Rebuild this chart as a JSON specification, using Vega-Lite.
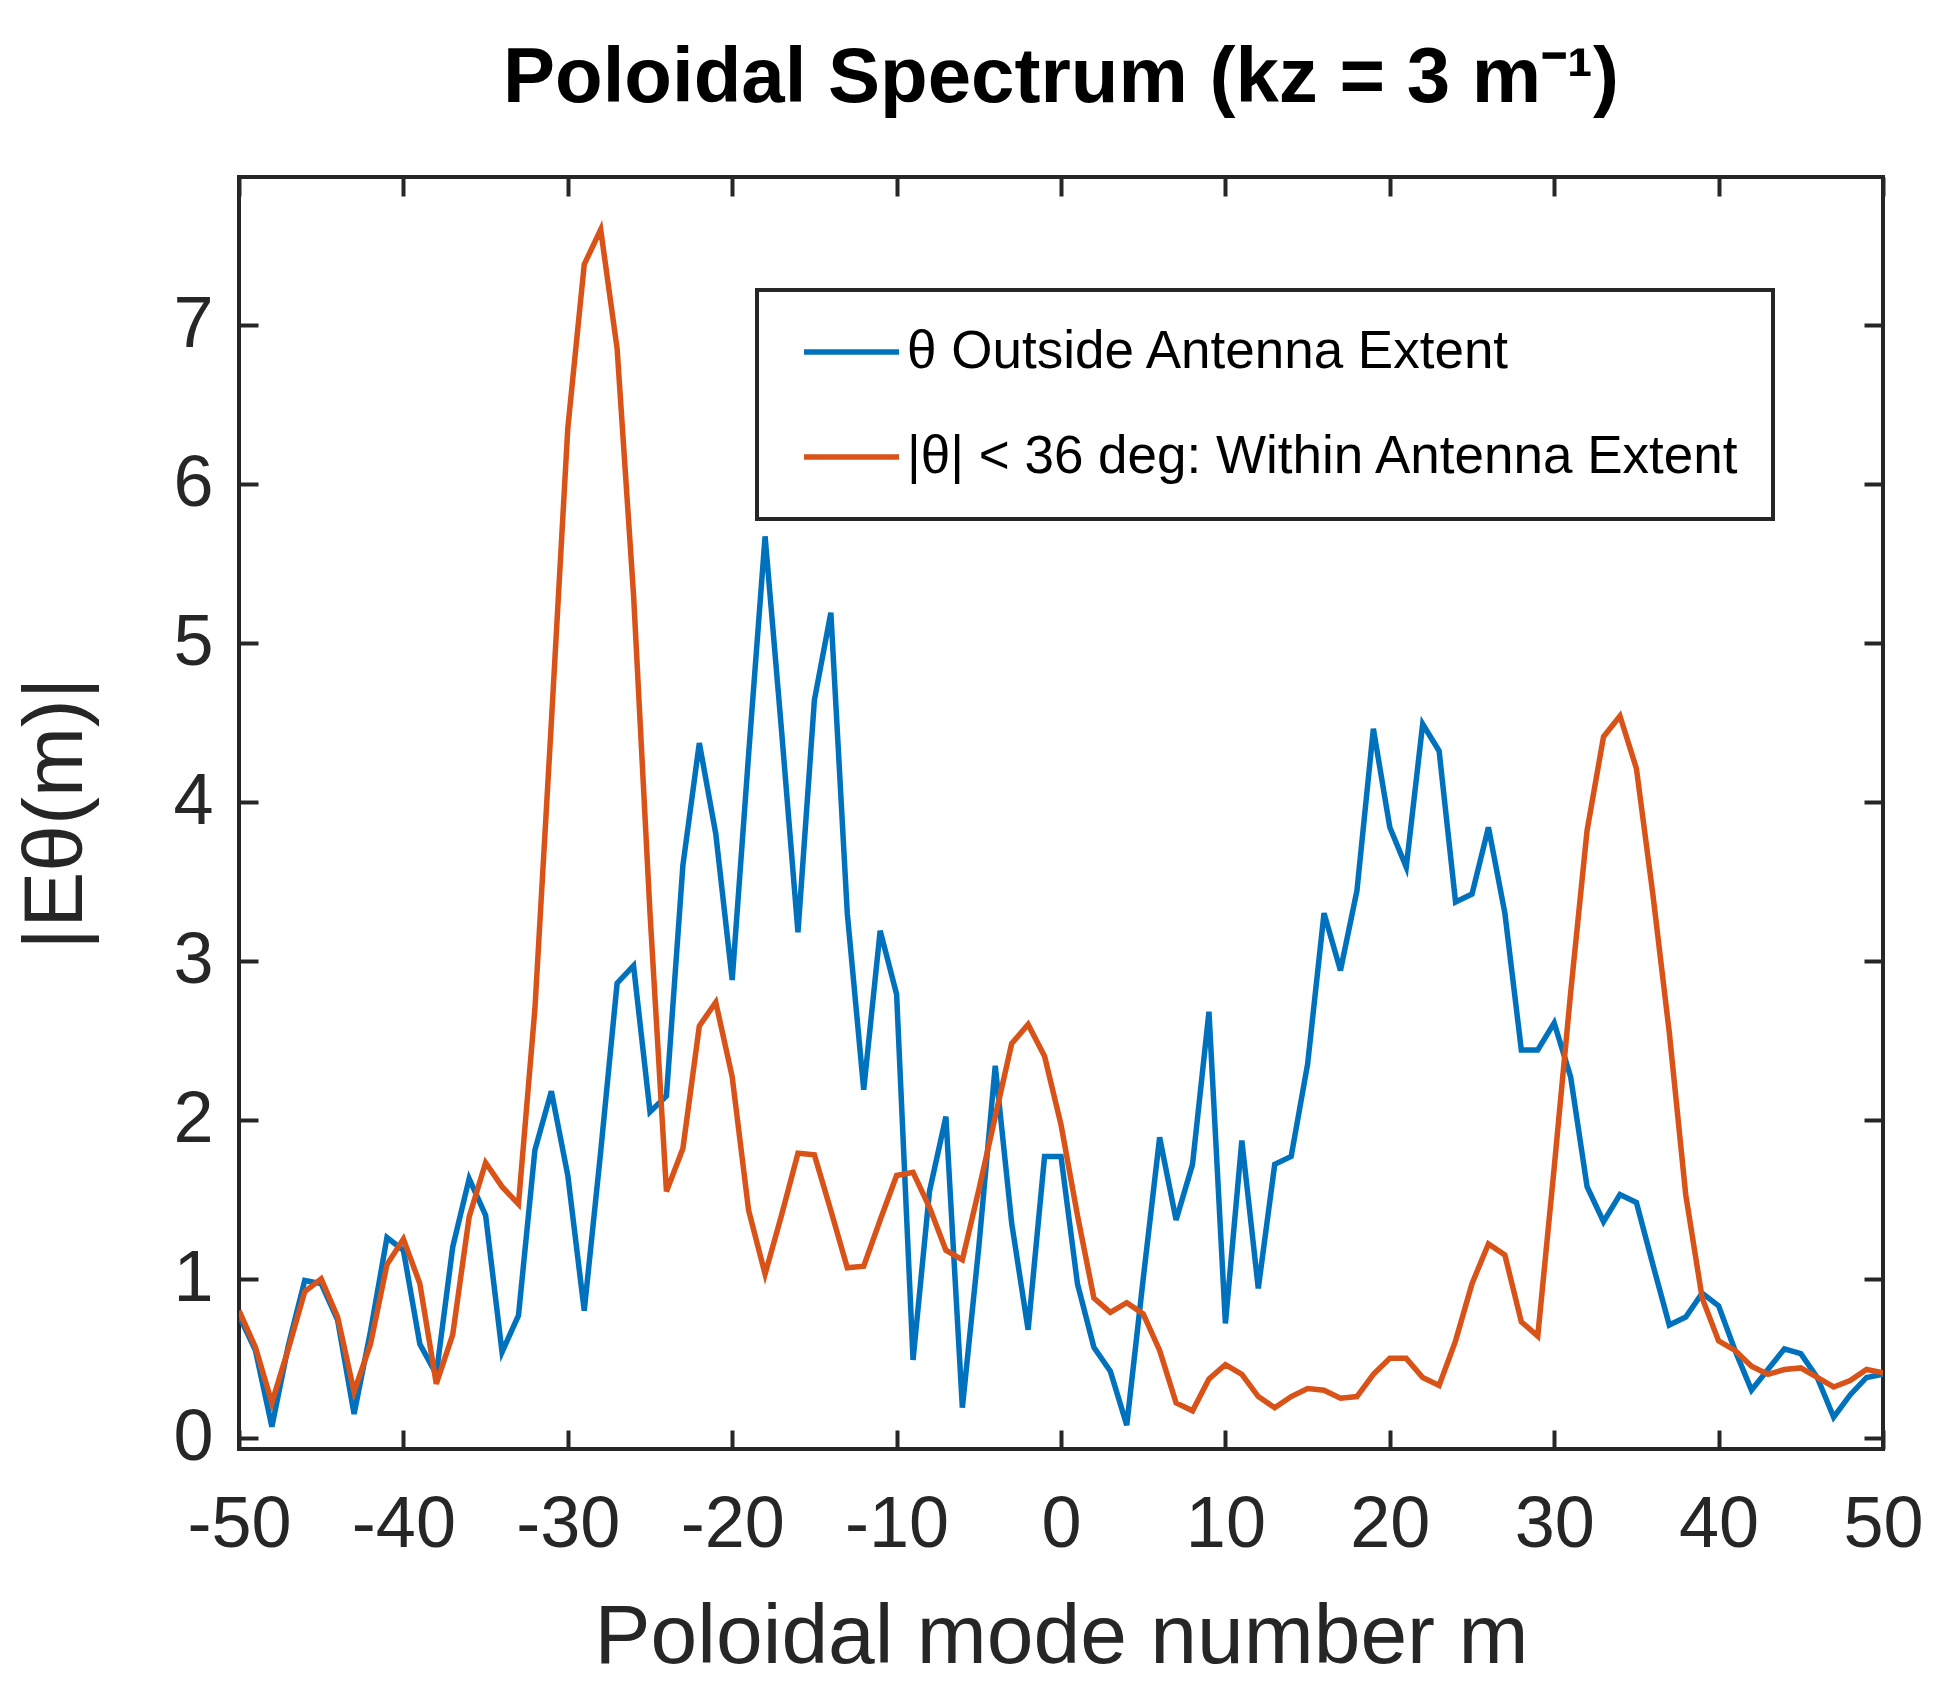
{
  "$schema": "https://vega.github.io/schema/vega-lite/v6.json",
  "autosize": "none",
  "width": 1644,
  "height": 1272,
  "padding": {"left": 239, "top": 177, "right": 55, "bottom": 232},
  "background": "white",
  "title": {
    "text": "Poloidal Spectrum (kz = 3 m⁻¹)",
    "font": "Liberation Sans",
    "fontSize": 78,
    "fontWeight": "bold",
    "color": "black",
    "anchor": "middle",
    "baseline": "alphabetic",
    "offset": -5
  },
  "config": {
    "view": {"stroke": "#262626", "strokeWidth": 4},
    "axis": {
      "labelFont": "Liberation Sans",
      "labelFontSize": 72,
      "labelColor": "#262626",
      "titleFont": "Liberation Sans",
      "titleFontSize": 84,
      "titleFontWeight": "normal",
      "titleColor": "#262626",
      "tickColor": "#262626",
      "tickWidth": 4,
      "tickSize": -19,
      "domain": false,
      "grid": false
    },
    "legend": {
      "labelFont": "Liberation Sans",
      "labelFontSize": 53,
      "labelColor": "black",
      "labelLimit": 2000
    }
  },
  "data": {
    "values": [
      {"m": -50, "outside": 0.77, "within": 0.80},
      {"m": -49, "outside": 0.55, "within": 0.57},
      {"m": -48, "outside": 0.07, "within": 0.22},
      {"m": -47, "outside": 0.58, "within": 0.56},
      {"m": -46, "outside": 0.99, "within": 0.92},
      {"m": -45, "outside": 0.97, "within": 1.00},
      {"m": -44, "outside": 0.74, "within": 0.76},
      {"m": -43, "outside": 0.15, "within": 0.29},
      {"m": -42, "outside": 0.67, "within": 0.59},
      {"m": -41, "outside": 1.26, "within": 1.09},
      {"m": -40, "outside": 1.18, "within": 1.25},
      {"m": -39, "outside": 0.59, "within": 0.97},
      {"m": -38, "outside": 0.40, "within": 0.34},
      {"m": -37, "outside": 1.20, "within": 0.65},
      {"m": -36, "outside": 1.63, "within": 1.39},
      {"m": -35, "outside": 1.40, "within": 1.73},
      {"m": -34, "outside": 0.54, "within": 1.58},
      {"m": -33, "outside": 0.77, "within": 1.47},
      {"m": -32, "outside": 1.81, "within": 2.70},
      {"m": -31, "outside": 2.18, "within": 4.50},
      {"m": -30, "outside": 1.65, "within": 6.35},
      {"m": -29, "outside": 0.80, "within": 7.38},
      {"m": -28, "outside": 1.80, "within": 7.60},
      {"m": -27, "outside": 2.86, "within": 6.85},
      {"m": -26, "outside": 2.97, "within": 5.30},
      {"m": -25, "outside": 2.05, "within": 3.30},
      {"m": -24, "outside": 2.15, "within": 1.55},
      {"m": -23, "outside": 3.60, "within": 1.82},
      {"m": -22, "outside": 4.37, "within": 2.59},
      {"m": -21, "outside": 3.80, "within": 2.74},
      {"m": -20, "outside": 2.88, "within": 2.27},
      {"m": -19, "outside": 4.30, "within": 1.43},
      {"m": -18, "outside": 5.67, "within": 1.03},
      {"m": -17, "outside": 4.45, "within": 1.40},
      {"m": -16, "outside": 3.18, "within": 1.79},
      {"m": -15, "outside": 4.64, "within": 1.78},
      {"m": -14, "outside": 5.19, "within": 1.43},
      {"m": -13, "outside": 3.30, "within": 1.07},
      {"m": -12, "outside": 2.19, "within": 1.08},
      {"m": -11, "outside": 3.19, "within": 1.37},
      {"m": -10, "outside": 2.79, "within": 1.65},
      {"m": -9, "outside": 0.49, "within": 1.67},
      {"m": -8, "outside": 1.55, "within": 1.45},
      {"m": -7, "outside": 2.02, "within": 1.18},
      {"m": -6, "outside": 0.19, "within": 1.12},
      {"m": -5, "outside": 1.20, "within": 1.56},
      {"m": -4, "outside": 2.34, "within": 2.02},
      {"m": -3, "outside": 1.35, "within": 2.48},
      {"m": -2, "outside": 0.68, "within": 2.60},
      {"m": -1, "outside": 1.77, "within": 2.40},
      {"m": 0, "outside": 1.77, "within": 1.97},
      {"m": 1, "outside": 0.97, "within": 1.40},
      {"m": 2, "outside": 0.57, "within": 0.88},
      {"m": 3, "outside": 0.42, "within": 0.79},
      {"m": 4, "outside": 0.08, "within": 0.85},
      {"m": 5, "outside": 1.00, "within": 0.78},
      {"m": 6, "outside": 1.89, "within": 0.55},
      {"m": 7, "outside": 1.37, "within": 0.22},
      {"m": 8, "outside": 1.72, "within": 0.17},
      {"m": 9, "outside": 2.68, "within": 0.37},
      {"m": 10, "outside": 0.72, "within": 0.46},
      {"m": 11, "outside": 1.87, "within": 0.40},
      {"m": 12, "outside": 0.94, "within": 0.26},
      {"m": 13, "outside": 1.72, "within": 0.19},
      {"m": 14, "outside": 1.77, "within": 0.26},
      {"m": 15, "outside": 2.35, "within": 0.31},
      {"m": 16, "outside": 3.30, "within": 0.30},
      {"m": 17, "outside": 2.94, "within": 0.25},
      {"m": 18, "outside": 3.44, "within": 0.26},
      {"m": 19, "outside": 4.46, "within": 0.40},
      {"m": 20, "outside": 3.84, "within": 0.50},
      {"m": 21, "outside": 3.59, "within": 0.50},
      {"m": 22, "outside": 4.49, "within": 0.38},
      {"m": 23, "outside": 4.32, "within": 0.33},
      {"m": 24, "outside": 3.37, "within": 0.61},
      {"m": 25, "outside": 3.42, "within": 0.97},
      {"m": 26, "outside": 3.84, "within": 1.22},
      {"m": 27, "outside": 3.30, "within": 1.15},
      {"m": 28, "outside": 2.44, "within": 0.73},
      {"m": 29, "outside": 2.44, "within": 0.64},
      {"m": 30, "outside": 2.61, "within": 1.70},
      {"m": 31, "outside": 2.27, "within": 2.80},
      {"m": 32, "outside": 1.58, "within": 3.82},
      {"m": 33, "outside": 1.36, "within": 4.41},
      {"m": 34, "outside": 1.53, "within": 4.54},
      {"m": 35, "outside": 1.48, "within": 4.21},
      {"m": 36, "outside": 1.09, "within": 3.42},
      {"m": 37, "outside": 0.71, "within": 2.55},
      {"m": 38, "outside": 0.76, "within": 1.53},
      {"m": 39, "outside": 0.91, "within": 0.88},
      {"m": 40, "outside": 0.83, "within": 0.61},
      {"m": 41, "outside": 0.55, "within": 0.55},
      {"m": 42, "outside": 0.30, "within": 0.45},
      {"m": 43, "outside": 0.43, "within": 0.40},
      {"m": 44, "outside": 0.56, "within": 0.43},
      {"m": 45, "outside": 0.53, "within": 0.44},
      {"m": 46, "outside": 0.38, "within": 0.38},
      {"m": 47, "outside": 0.13, "within": 0.32},
      {"m": 48, "outside": 0.27, "within": 0.36},
      {"m": 49, "outside": 0.38, "within": 0.43},
      {"m": 50, "outside": 0.40, "within": 0.41}
    ]
  },
  "resolve": {"axis": {"x": "independent", "y": "independent"}},
  "layer": [
    {
      "mark": {"type": "line", "strokeWidth": 5.5, "clip": true},
      "encoding": {
        "x": {
          "field": "m", "type": "quantitative",
          "scale": {"domain": [-50, 50], "nice": false, "zero": false},
          "axis": {
            "orient": "bottom",
            "values": [-50, -40, -30, -20, -10, 0, 10, 20, 30, 40, 50],
            "labelExpr": "'' + datum.value",
            "labelPadding": 59,
            "labelFlush": false,
            "title": "Poloidal mode number m",
            "titleX": 822,
            "titleY": 213,
            "titleAlign": "center",
            "titleBaseline": "alphabetic"
          }
        },
        "y": {
          "field": "outside", "type": "quantitative",
          "scale": {"domain": [-0.07, 7.93], "nice": false, "zero": false},
          "axis": {
            "orient": "left",
            "values": [0, 1, 2, 3, 4, 5, 6, 7],
            "labelPadding": 45,
            "labelFlush": false,
            "title": "|Eθ(m)|",
            "titleX": -183,
            "titleY": 636,
            "titleAngle": -90,
            "titleAlign": "center",
            "titleBaseline": "middle"
          }
        },
        "color": {
          "datum": "out",
          "scale": {"domain": ["out", "in"], "range": ["#0072BD", "#D95319"]},
          "legend": {
            "orient": "none",
            "legendX": 518,
            "legendY": 113,
            "title": null,
            "symbolType": "stroke",
            "symbolSize": 9025,
            "symbolStrokeWidth": 5.5,
            "symbolOffset": 12,
            "labelOffset": 5,
            "padding": 32,
            "rowPadding": 45,
            "clipHeight": 60,
            "strokeColor": "#262626",
            "fillColor": "white",
            "labelExpr": "datum.label == 'out' ? 'θ Outside Antenna Extent' : '|θ| < 36 deg: Within Antenna Extent'",
            "encode": {"legend": {"update": {"strokeWidth": {"value": 4}}}}
          }
        }
      }
    },
    {
      "mark": {"type": "line", "strokeWidth": 5.5, "clip": true},
      "encoding": {
        "x": {"field": "m", "type": "quantitative", "axis": null},
        "y": {"field": "within", "type": "quantitative", "axis": null},
        "color": {"datum": "in"}
      }
    },
    {
      "mark": {"type": "line", "strokeOpacity": 0, "clip": true},
      "encoding": {
        "x": {
          "field": "m", "type": "quantitative",
          "axis": {"orient": "top", "values": [-50, -40, -30, -20, -10, 0, 10, 20, 30, 40, 50], "labels": false, "title": null}
        },
        "y": {
          "field": "outside", "type": "quantitative",
          "axis": {"orient": "right", "values": [0, 1, 2, 3, 4, 5, 6, 7], "labels": false, "title": null}
        }
      }
    }
  ]
}
